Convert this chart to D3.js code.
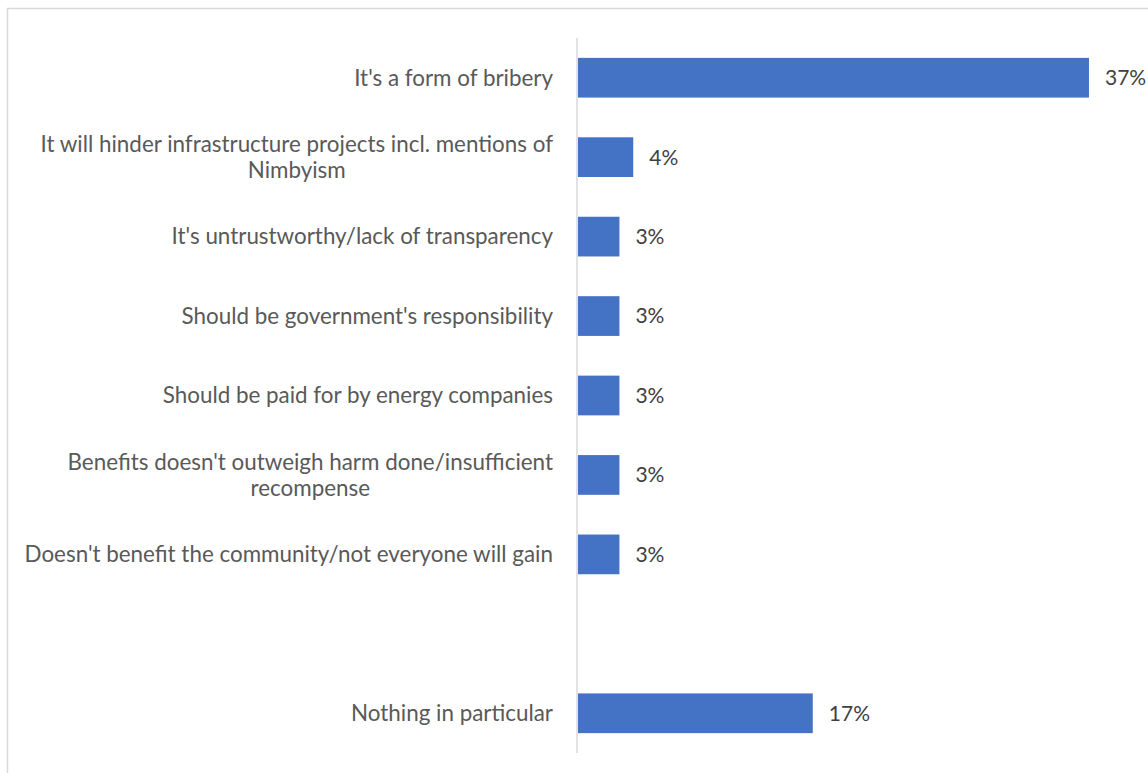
<!DOCTYPE html>
<html>
<head>
<meta charset="utf-8">
<script src="https://cdn.jsdelivr.net/npm/d3@7/dist/d3.min.js"></script>
<style>
  html, body { margin: 0; padding: 0; background: #ffffff; }
  svg { display: block; }
</style>
</head>
<body>
<svg id="chart" width="1148" height="773"></svg>
<script>
// Reasons given (one blank slot separates the last answer)
const categories = [
  "It's a form of bribery",
  "It will hinder infrastructure projects incl. mentions of|Nimbyism",
  "It's untrustworthy/lack of transparency",
  "Should be government's responsibility",
  "Should be paid for by energy companies",
  "Benefits doesn't outweigh harm done/insufficient|recompense",
  "Doesn't benefit the community/not everyone will gain",
  "",
  "Nothing in particular"
];
const values = [37, 4, 3, 3, 3, 3, 3, null, 17];
const valueLabels = ["37%", "4%", "3%", "3%", "3%", "3%", "3%", "", "17%"];

const rows = categories.map((c, i) => ({ key: "r" + i, label: c, value: values[i], text: valueLabels[i] }));

const svg = d3.select("#chart");
const font = "Lato, 'Open Sans', sans-serif";

// Chart frame
svg.append("rect")
  .attr("x", 7.5).attr("y", 8.5)
  .attr("width", 1200).attr("height", 800)
  .attr("fill", "none").attr("stroke", "#d9d9d9").attr("stroke-width", 1.5);

const x = d3.scaleLinear().domain([0, 40]).range([578, 1130.4]);
const y = d3.scaleBand()
  .domain(rows.map(d => d.key))
  .range([38, 753])
  .paddingInner(0.5)
  .paddingOuter(0.25);

// Bars
svg.append("g").selectAll("rect")
  .data(rows.filter(d => d.value != null))
  .join("rect")
  .attr("x", x(0))
  .attr("y", d => y(d.key))
  .attr("width", d => x(d.value) - x(0))
  .attr("height", y.bandwidth())
  .attr("fill", "#4472c4");

// Category axis line
svg.append("line")
  .attr("x1", 577).attr("x2", 577)
  .attr("y1", 38).attr("y2", 753)
  .attr("stroke", "#d9d9d9").attr("stroke-width", 1.5);

// Value labels
svg.append("g").selectAll("text")
  .data(rows.filter(d => d.value != null))
  .join("text")
  .attr("x", d => x(d.value) + 16)
  .attr("y", d => y(d.key) + y.bandwidth() / 2)
  .attr("dy", "0.35em")
  .attr("font-family", font)
  .attr("font-size", 21)
  .attr("fill", "#404040")
  .text(d => d.text);

// Category labels (wrapped labels use "|" as the line break)
const labelRight = 553;
const lineGap = 26;
const labelSize = 22.4;
const lg = svg.append("g");
rows.filter(d => d.label).forEach(d => {
  const lines = d.label.split("|");
  const cy = y(d.key) + y.bandwidth() / 2;
  const top = cy - (lines.length - 1) * lineGap / 2;
  const first = lg.append("text")
    .attr("x", labelRight)
    .attr("y", top)
    .attr("dy", "0.35em")
    .attr("text-anchor", "end")
    .attr("font-family", font)
    .attr("font-size", labelSize)
    .attr("fill", "#595959")
    .text(lines[0]);
  if (lines.length > 1) {
    const w = first.node().getComputedTextLength();
    const mid = labelRight - w / 2;
    lines.slice(1).forEach((ln, j) => {
      lg.append("text")
        .attr("x", mid)
        .attr("y", top + (j + 1) * lineGap)
        .attr("dy", "0.35em")
        .attr("text-anchor", "middle")
        .attr("font-family", font)
        .attr("font-size", labelSize)
        .attr("fill", "#595959")
        .text(ln);
    });
  }
});
</script>
</body>
</html>
